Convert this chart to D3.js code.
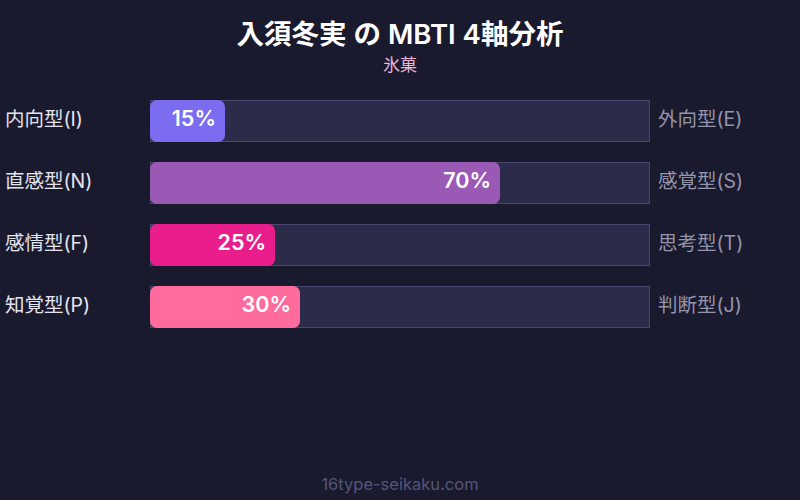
<!DOCTYPE html>
<html>
<head>
<meta charset="utf-8">
<script src="https://cdn.jsdelivr.net/npm/d3@7"></script>
<style>
  body { margin: 0; background: #1a1a2e; }
  svg { display: block; }
</style>
</head>
<body>
<svg id="chart" width="800" height="500"></svg>
<script>
const leftLabels = ["内向型(I)", "直感型(N)", "感情型(F)", "知覚型(P)"];
const rightLabels = ["外向型(E)", "感覚型(S)", "思考型(T)", "判断型(J)"];
const values = [15, 70, 25, 30];
const colors = ["#7b6cf0", "#9b59b6", "#e91e8c", "#ff6b9d"];

const font = "Inter, 'Noto Sans CJK JP', sans-serif";
const svg = d3.select("#chart");

svg.append("rect").attr("width", 800).attr("height", 500).attr("fill", "#1a1a2e");

const x = d3.scaleLinear().domain([0, 100]).range([150, 650]);
// rows: 42px tall, 62px apart
const y = d3.scaleBand().domain(d3.range(values.length)).range([100, 328]).paddingInner(20 / 62).paddingOuter(0);
const mid = (i) => y(i) + y.bandwidth() / 2 - 2.5;

// title
svg.append("text")
  .attr("x", 400).attr("y", 44)
  .attr("text-anchor", "middle")
  .attr("fill", "#ffffff")
  .style("font-family", font)
  .style("font-size", "27.5px")
  .style("font-weight", "600")
  .text("入須冬実 の MBTI 4軸分析");

svg.append("text")
  .attr("x", 400).attr("y", 71)
  .attr("text-anchor", "middle")
  .attr("fill", "#e8b4d8")
  .style("font-family", font)
  .style("font-size", "17px")
  .text("氷菓");

const rows = svg.selectAll(".row")
  .data(values)
  .enter()
  .append("g")
  .attr("class", "row");

// background track
rows.append("rect")
  .attr("x", x(0) + 0.5)
  .attr("y", (d, i) => y(i) + 0.5)
  .attr("width", x(100) - x(0) - 1)
  .attr("height", y.bandwidth() - 1)
  .attr("fill", "#2d2b4a")
  .attr("stroke", "#4a4870")
  .attr("stroke-width", 1);

// value bar
rows.append("rect")
  .attr("x", x(0))
  .attr("y", (d, i) => y(i))
  .attr("width", (d) => x(d) - x(0))
  .attr("height", y.bandwidth())
  .attr("rx", 7)
  .attr("fill", (d, i) => colors[i]);

rows.append("text")
  .attr("x", (d) => x(d) - 9)
  .attr("y", (d, i) => mid(i))
  .attr("dy", "0.36em")
  .attr("text-anchor", "end")
  .attr("fill", "#ffffff")
  .style("font-family", font)
  .style("font-size", "21.5px")
  .style("font-weight", "600")
  .text((d) => `${d}%`);

rows.append("text")
  .attr("x", 5)
  .attr("y", (d, i) => mid(i))
  .attr("dy", "0.36em")
  .attr("fill", "#e4e4f0")
  .style("font-family", font)
  .style("font-size", "19.5px")
  .text((d, i) => leftLabels[i]);

rows.append("text")
  .attr("x", 658)
  .attr("y", (d, i) => mid(i))
  .attr("dy", "0.36em")
  .attr("fill", "#9494aa")
  .style("font-family", font)
  .style("font-size", "19.5px")
  .text((d, i) => rightLabels[i]);

// footer
svg.append("text")
  .attr("x", 400).attr("y", 490)
  .attr("text-anchor", "middle")
  .attr("fill", "#55557a")
  .style("font-family", font)
  .style("font-size", "16.5px")
  .text("16type-seikaku.com");
</script>
</body>
</html>
